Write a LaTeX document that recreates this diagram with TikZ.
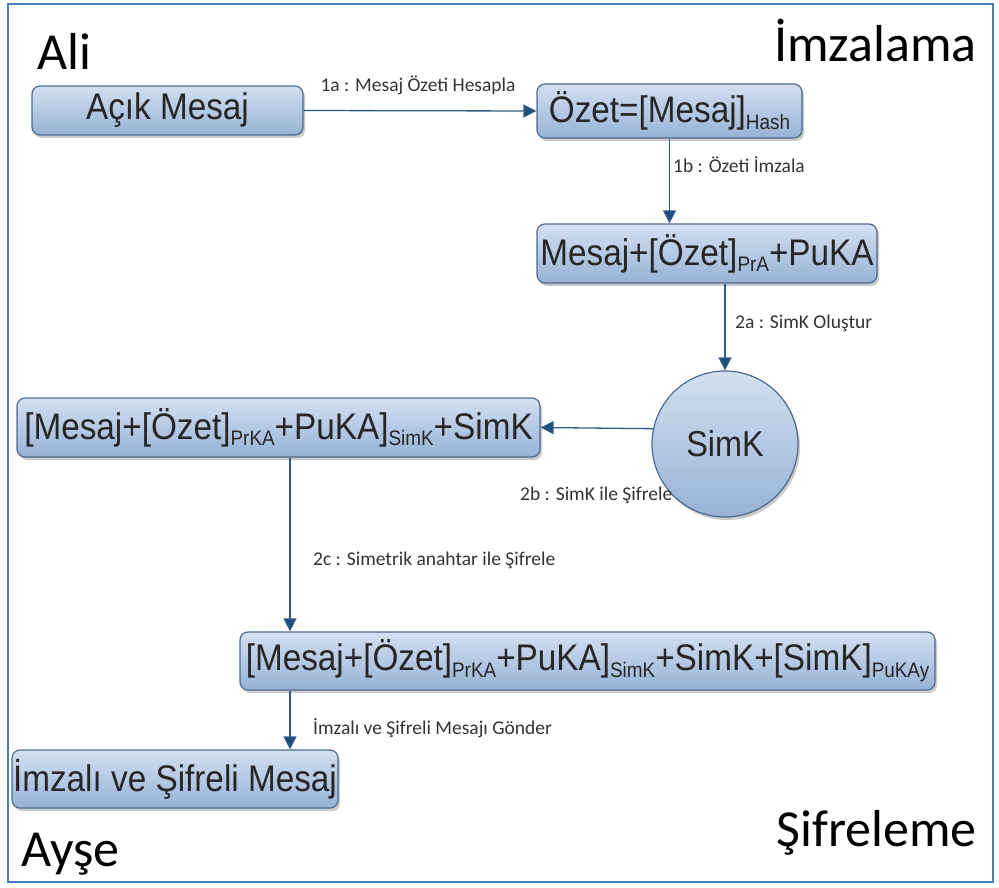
\documentclass[tikz,border=0pt]{standalone}
\usepackage{fontspec}
\setmainfont{Liberation Sans}
\newfontfamily\boxfont[FakeStretch=0.9]{Liberation Sans}
\newfontfamily\calib{Carlito}
\usetikzlibrary{arrows.meta,shadows,calc}
\definecolor{frameblue}{HTML}{4A7EBB}
\definecolor{boxtop}{HTML}{D3E0F0}
\definecolor{boxbot}{HTML}{97B2D6}
\definecolor{boxline}{HTML}{4F6A8F}
\definecolor{arrowcol}{HTML}{2E5A88}
\definecolor{tipcol}{HTML}{1F4E79}
\newcommand\lowsub[1]{\raisebox{-0.35ex}{\fontsize{21}{21}\selectfont #1}}
\tikzset{
  procbox/.style={draw=boxline, line width=1.2pt, rounded corners=8pt,
    top color=boxtop, bottom color=boxbot, inner sep=0pt,
    font=\boxfont\fontsize{37}{40}\selectfont, text=black!85,
    drop shadow={shadow xshift=2pt, shadow yshift=-3pt, opacity=.35, fill=black!60}},
  keycircle/.style={circle, draw=boxline, line width=1.2pt,
    top color=boxtop, bottom color=boxbot, inner sep=0pt, minimum size=146pt,
    font=\boxfont\fontsize{36}{40}\selectfont, text=black!85,
    drop shadow={shadow xshift=2pt, shadow yshift=-3pt, opacity=.35, fill=black!60}},
  flow/.style={draw=arrowcol, line width=1.3pt,
    -{Triangle[width=13pt,length=13pt,fill=tipcol]}},
  steplabel/.style={font=\calib\fontsize{19.5}{21}\selectfont, text=black!80, inner sep=0pt},
  biglabel/.style={font=\calib\fontsize{52}{56}\selectfont, text=black, inner sep=0pt}
}
\begin{document}
\begin{tikzpicture}[x=1pt,y=-1pt]
\useasboundingbox (0,0) rectangle (999,888);
\draw[frameblue, line width=2.5pt] (8,4) rectangle (993,882);

% big labels
\node[biglabel, anchor=base west] (ali) at (37,70) {Ali};
\node[biglabel, anchor=base east] (imz) at (977,62) {İmzalama};
\node[biglabel, anchor=base east] (sif) at (977,846) {Şifreleme};
\node[biglabel, anchor=base west] (ayse) at (21,866) {Ayşe};

% boxes
\node[procbox, minimum width=271pt, minimum height=49pt] (b1) at (167.5,110.5) {Açık Mesaj};
\node[procbox, minimum width=265pt, minimum height=54pt] (b2) at (669.5,111) {Özet=[Mesaj]\lowsub{Hash}};
\node[procbox, minimum width=340pt, minimum height=59pt] (b3) at (707,253.5) {Mesaj+[Özet]\lowsub{PrA}+PuKA};
\node[keycircle] (sk) at (725,444) {SimK};
\node[procbox, minimum width=523pt, minimum height=59pt] (b5) at (278.5,427.5) {[Mesaj+[Özet]\lowsub{PrKA}+PuKA]\lowsub{SimK}+SimK};
\node[procbox, minimum width=695pt, minimum height=58pt] (b6) at (587.5,661) {[Mesaj+[Özet]\lowsub{PrKA}+PuKA]\lowsub{SimK}+SimK+[SimK]\lowsub{PuKAy}};
\node[procbox, minimum width=326pt, minimum height=58pt] (b7) at (175,779) {İmzalı ve Şifreli Mesaj};

% connectors
\draw[flow] (b1.east) -- (b2.west);
\draw[flow] (b2.south) -- (b2.south |- b3.north);
\draw[flow] (sk.north |- b3.south) -- (sk.north);
\draw[flow] (sk.168) -- (b5.east);
\coordinate (c2c) at ([xshift=11.5pt]b5.south);
\draw[flow] (c2c) -- (c2c |- b6.north);
\draw[flow] (c2c |- b6.south) -- (c2c |- b7.north);

% connector labels
\node[steplabel] (l1a) at (418,85) {1a : Mesaj Özeti Hesapla};
\node[steplabel, anchor=west] (l1b) at (673,165) {1b : Özeti İmzala};
\node[steplabel, anchor=west] (l2a) at (735,323) {2a : SimK Oluştur};
\node[steplabel, anchor=west] (l2b) at (520,495) {2b : SimK ile Şifrele};
\node[steplabel, anchor=west] (l2c) at (313,560) {2c : Simetrik anahtar ile Şifrele};
\node[steplabel, anchor=west] (lsend) at (313,728) {İmzalı ve Şifreli Mesajı Gönder};
\end{tikzpicture}
\end{document}
